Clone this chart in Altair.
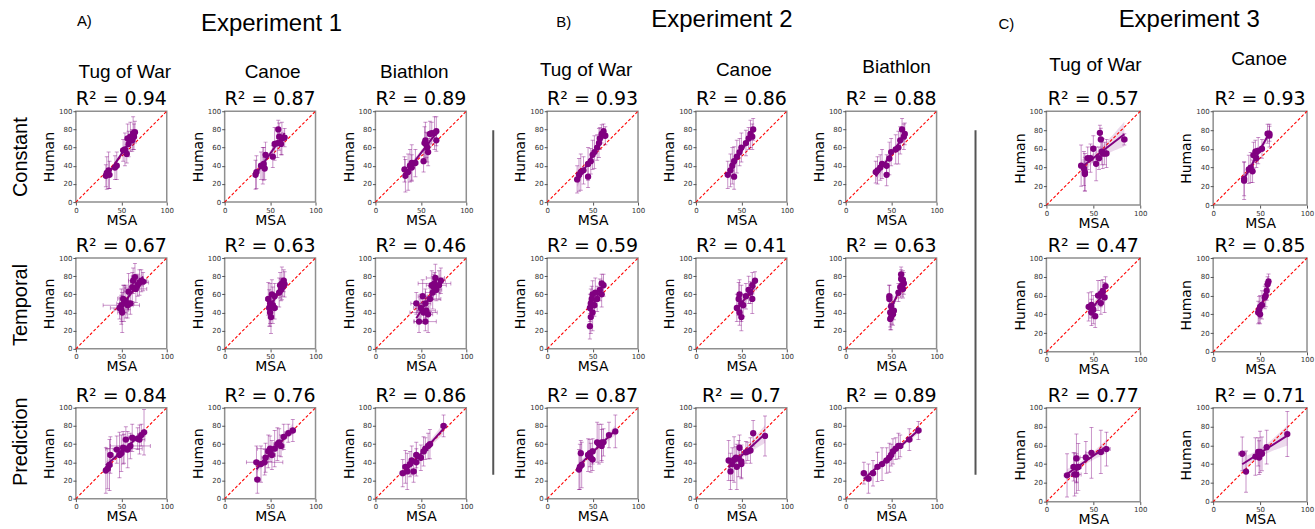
import altair as alt
import numpy as np
import pandas as pd

# ---------------------------------------------------------------- labels
CONDITIONS = ["Constant", "Temporal", "Prediction"]
EXPERIMENTS = ["Experiment 1", "Experiment 2", "Experiment 3"]
LETTERS = ["A)", "B)", "C)"]
SPORTS = ["Tug of War", "Canoe", "Biathlon", "Tug of War", "Canoe", "Biathlon", "Tug of War", "Canoe"]

# R^2 per column (Constant, Temporal, Prediction)
R2_E1_TUG = [0.94, 0.67, 0.84]
R2_E1_CANOE = [0.87, 0.63, 0.76]
R2_E1_BIATH = [0.89, 0.46, 0.86]
R2_E2_TUG = [0.93, 0.59, 0.87]
R2_E2_CANOE = [0.86, 0.41, 0.7]
R2_E2_BIATH = [0.88, 0.63, 0.89]
R2_E3_TUG = [0.57, 0.47, 0.77]
R2_E3_CANOE = [0.93, 0.85, 0.71]

# ---------------------------------------------------------------- data
# each point: (MSA, Human, MSA error, Human error)
E1_TUG_CONST = [(33, 29, 2, 12), (34, 32, 2, 18), (36, 35, 2, 20), (37, 30, 2, 15), (43, 38, 2, 13), (45, 40, 2, 15),
                (52, 57, 2, 12), (54, 58, 2, 18), (56, 53, 2, 10), (57, 70, 3, 16), (58, 64, 2, 14), (60, 72, 2, 16),
                (62, 68, 3, 12), (63, 76, 2, 18), (64, 72, 2, 14), (65, 77, 2, 12)]
E1_TUG_TEMP = [(48, 45, 10, 12), (50, 48, 20, 18), (51, 40, 5, 22), (52, 55, 6, 15), (53, 50, 8, 20), (55, 52, 4, 18),
               (57, 48, 6, 14), (58, 63, 5, 20), (60, 50, 4, 12), (62, 68, 8, 16), (63, 75, 5, 14), (65, 79, 4, 15),
               (66, 66, 12, 15), (68, 70, 6, 12), (70, 73, 10, 14), (72, 75, 6, 12), (74, 74, 4, 10), (50, 43, 8, 16)]
E1_TUG_PRED = [(33, 31, 2, 25), (35, 33, 3, 22), (37, 37, 3, 28), (38, 48, 3, 20), (45, 54, 4, 15), (48, 48, 3, 25),
               (50, 50, 3, 20), (52, 56, 4, 18), (53, 55, 20, 16), (55, 65, 3, 14), (57, 54, 4, 20), (60, 58, 22, 14),
               (62, 67, 4, 15), (68, 66, 3, 12), (70, 65, 6, 16), (75, 73, 3, 25), (72, 70, 4, 12)]

E1_CANOE_CONST = [(34, 30, 2, 16), (35, 33, 2, 18), (40, 40, 2, 15), (42, 40, 2, 20), (43, 42, 2, 18), (45, 52, 2, 14),
                  (44, 37, 2, 12), (53, 50, 2, 12), (55, 64, 2, 18), (58, 65, 2, 16), (59, 80, 2, 10), (60, 72, 2, 15),
                  (62, 64, 2, 12), (63, 70, 2, 18), (66, 71, 2, 10)]
E1_CANOE_TEMP = [(48, 55, 3, 18), (49, 45, 2, 20), (50, 40, 3, 15), (50, 50, 2, 22), (51, 35, 3, 18), (52, 60, 2, 16),
                 (53, 48, 3, 20), (55, 58, 2, 14), (55, 45, 3, 12), (60, 62, 3, 16), (61, 70, 2, 14), (62, 65, 3, 12),
                 (63, 72, 2, 18), (64, 68, 2, 10), (65, 75, 3, 12), (66, 71, 2, 14)]
E1_CANOE_PRED = [(36, 21, 3, 15), (35, 40, 3, 18), (40, 38, 3, 20), (45, 45, 4, 16), (48, 52, 3, 18), (50, 55, 14, 14),
                 (52, 48, 4, 16), (55, 55, 3, 20), (58, 60, 4, 18), (60, 62, 3, 15), (62, 58, 4, 12), (65, 68, 3, 14),
                 (70, 72, 4, 10), (75, 75, 3, 12), (44, 40, 20, 14)]

E1_BIATH_CONST = [(32, 36, 2, 14), (33, 29, 2, 18), (36, 33, 2, 20), (38, 40, 2, 18), (40, 43, 2, 20), (40, 38, 2, 14),
                  (44, 43, 2, 15), (53, 45, 2, 12), (54, 65, 2, 18), (55, 68, 2, 20), (57, 60, 2, 16), (58, 55, 2, 15),
                  (60, 75, 2, 14), (62, 76, 2, 12), (65, 76, 2, 18), (67, 78, 2, 16), (67, 68, 2, 12), (56, 63, 2, 14)]
E1_BIATH_TEMP = [(48, 30, 6, 12), (50, 45, 8, 15), (52, 58, 5, 18), (53, 40, 15, 12), (55, 50, 6, 16), (56, 42, 10, 14),
                 (58, 38, 5, 20), (60, 55, 12, 14), (62, 70, 6, 16), (63, 62, 8, 18), (64, 68, 5, 14), (65, 72, 18, 12),
                 (66, 78, 10, 15), (67, 65, 6, 12), (70, 70, 8, 16), (72, 75, 5, 14), (45, 50, 6, 12), (55, 30, 12, 10)]
E1_BIATH_PRED = [(30, 28, 3, 15), (33, 35, 3, 18), (35, 30, 3, 20), (38, 38, 3, 14), (40, 42, 3, 16), (42, 30, 3, 12),
                 (45, 40, 3, 15), (50, 45, 3, 14), (53, 52, 3, 16), (55, 55, 3, 12), (58, 58, 3, 14), (60, 60, 3, 16),
                 (75, 80, 3, 12), (45, 48, 3, 14)]

E2_TUG_CONST = [(33, 25, 2, 15), (35, 30, 2, 18), (37, 33, 2, 20), (40, 35, 2, 15), (45, 42, 2, 18), (48, 45, 2, 14),
                (50, 52, 2, 16), (52, 55, 2, 18), (55, 60, 2, 14), (57, 65, 2, 16), (58, 70, 2, 12), (60, 75, 2, 10),
                (62, 78, 2, 8), (64, 73, 2, 10), (45, 28, 2, 12)]
E2_TUG_TEMP = [(47, 45, 2, 15), (48, 35, 2, 18), (48, 50, 2, 16), (49, 55, 2, 14), (50, 40, 2, 20), (50, 60, 2, 15),
               (52, 48, 2, 12), (53, 62, 2, 16), (55, 55, 2, 14), (58, 65, 2, 12), (60, 72, 2, 10), (60, 60, 2, 14),
               (62, 70, 2, 12), (47, 25, 2, 14)]
E2_TUG_PRED = [(35, 32, 2, 22), (36, 35, 2, 25), (37, 50, 2, 14), (38, 37, 2, 25), (45, 48, 2, 18), (47, 50, 2, 15),
               (48, 45, 2, 16), (50, 43, 2, 12), (50, 52, 2, 14), (55, 62, 2, 22), (57, 60, 2, 22), (60, 58, 2, 18),
               (60, 62, 2, 20), (62, 62, 2, 15), (68, 70, 2, 14), (75, 74, 2, 18)]

E2_CANOE_CONST = [(35, 30, 2, 15), (38, 35, 2, 18), (40, 40, 2, 20), (42, 45, 2, 16), (45, 50, 2, 18), (48, 55, 2, 15),
                  (50, 60, 2, 16), (55, 65, 2, 14), (58, 70, 2, 12), (60, 75, 2, 15), (62, 72, 2, 14), (63, 80, 2, 12),
                  (42, 28, 2, 14)]
E2_CANOE_TEMP = [(45, 45, 2, 15), (47, 55, 2, 18), (48, 60, 2, 16), (48, 40, 2, 14), (50, 50, 2, 20), (50, 35, 2, 15),
                 (52, 48, 2, 12), (55, 58, 2, 14), (58, 65, 2, 15), (60, 62, 2, 12), (62, 70, 2, 14), (62, 55, 2, 16),
                 (65, 75, 2, 10)]
E2_CANOE_PRED = [(36, 42, 2, 22), (38, 30, 2, 20), (40, 38, 2, 18), (42, 43, 2, 25), (45, 35, 2, 25), (47, 44, 2, 20),
                 (48, 56, 2, 14), (50, 38, 2, 16), (50, 41, 2, 18), (55, 51, 2, 12), (57, 52, 2, 10), (60, 53, 2, 14),
                 (63, 72, 2, 14), (76, 69, 2, 22), (44, 45, 2, 12)]

E2_BIATH_CONST = [(33, 33, 2, 12), (35, 35, 2, 15), (38, 38, 2, 14), (40, 42, 2, 16), (45, 40, 2, 12), (48, 48, 2, 18),
                  (50, 55, 2, 15), (55, 58, 2, 16), (58, 60, 2, 18), (60, 68, 2, 15), (62, 80, 2, 12), (64, 72, 2, 14),
                  (65, 75, 2, 12), (45, 30, 2, 12)]
E2_BIATH_TEMP = [(48, 58, 2, 12), (48, 55, 2, 15), (49, 40, 2, 16), (50, 35, 2, 14), (50, 47, 2, 12), (51, 42, 2, 15),
                 (52, 38, 2, 12), (53, 42, 2, 10), (60, 68, 2, 12), (61, 77, 2, 10), (61, 82, 2, 8), (62, 70, 2, 12),
                 (63, 66, 2, 10), (63, 76, 2, 10), (64, 72, 2, 12), (58, 62, 2, 10), (49, 33, 2, 12)]
E2_BIATH_PRED = [(20, 28, 3, 12), (25, 22, 3, 16), (30, 28, 3, 14), (35, 35, 3, 16), (40, 38, 3, 18), (45, 42, 3, 14),
                 (48, 45, 3, 16), (50, 48, 3, 12), (52, 52, 3, 14), (55, 55, 3, 12), (58, 58, 3, 14), (60, 58, 3, 12),
                 (70, 65, 3, 12), (80, 75, 3, 10)]

E3_TUG_CONST = [(37, 42, 2, 22), (40, 39, 2, 18), (41, 35, 2, 20), (41, 33, 2, 18), (44, 50, 2, 12), (47, 50, 2, 15),
                (50, 60, 2, 14), (53, 44, 2, 18), (56, 50, 3, 12), (57, 77, 2, 8), (58, 70, 2, 12), (59, 57, 2, 14),
                (60, 55, 2, 16), (62, 55, 2, 12), (64, 55, 2, 15), (83, 70, 3, 6)]
E3_TUG_TEMP = [(45, 48, 2, 15), (48, 50, 2, 14), (50, 45, 2, 15), (52, 38, 2, 12), (55, 60, 2, 16), (58, 62, 2, 14),
               (60, 65, 2, 12), (62, 58, 2, 16), (63, 70, 2, 10), (48, 42, 2, 14), (58, 52, 2, 12)]
E3_TUG_PRED = [(22, 28, 3, 23), (29, 37, 3, 15), (30, 29, 3, 23), (32, 46, 3, 26), (32, 36, 3, 15), (32, 29, 5, 20),
               (34, 37, 3, 25), (42, 47, 6, 17), (48, 52, 6, 27), (58, 53, 3, 23), (64, 56, 4, 18)]

E3_CANOE_CONST = [(33, 26, 2, 20), (33, 28, 2, 18), (38, 38, 2, 15), (40, 40, 2, 16), (42, 36, 2, 12), (43, 53, 2, 14),
                  (45, 57, 2, 12), (46, 50, 2, 10), (48, 58, 2, 14), (52, 60, 2, 10), (58, 76, 2, 10), (60, 74, 2, 12),
                  (60, 76, 2, 8)]
E3_CANOE_TEMP = [(48, 42, 2, 12), (49, 45, 2, 14), (50, 48, 2, 12), (52, 50, 2, 15), (55, 58, 2, 12), (57, 65, 2, 10),
                 (58, 72, 2, 8), (59, 75, 2, 8), (50, 40, 2, 10), (56, 60, 2, 12)]
E3_CANOE_PRED = [(31, 51, 4, 18), (35, 32, 2, 22), (45, 48, 2, 20), (48, 53, 2, 15), (49, 47, 2, 18), (50, 53, 2, 22),
                 (52, 51, 2, 18), (57, 58, 2, 18), (79, 72, 2, 24)]

# identity line over the shared axis range
DIAG = [0, 100]

COLUMN_DATA = [
    ([E1_TUG_CONST, E1_TUG_TEMP, E1_TUG_PRED], R2_E1_TUG),
    ([E1_CANOE_CONST, E1_CANOE_TEMP, E1_CANOE_PRED], R2_E1_CANOE),
    ([E1_BIATH_CONST, E1_BIATH_TEMP, E1_BIATH_PRED], R2_E1_BIATH),
    ([E2_TUG_CONST, E2_TUG_TEMP, E2_TUG_PRED], R2_E2_TUG),
    ([E2_CANOE_CONST, E2_CANOE_TEMP, E2_CANOE_PRED], R2_E2_CANOE),
    ([E2_BIATH_CONST, E2_BIATH_TEMP, E2_BIATH_PRED], R2_E2_BIATH),
    ([E3_TUG_CONST, E3_TUG_TEMP, E3_TUG_PRED], R2_E3_TUG),
    ([E3_CANOE_CONST, E3_CANOE_TEMP, E3_CANOE_PRED], R2_E3_CANOE),
]

# ---------------------------------------------------------------- styling / layout
PURPLE = "#800080"
FRAME = "#8f8f8f"
MPL_FONT = "DejaVu Sans"
HEAD_FONT = "Liberation Sans"

COL_LEFT = [76, 225, 376, 548, 697, 847, 1048, 1215]
COL_W = [91, 91, 91, 91, 91, 91, 94, 94]
ROW_TOPS = [[111, 253, 395]] * 3 + [[110, 252, 394]] * 3 + [[111, 258, 408], [103, 250, 400]]
SEPARATORS = [494, 977]

DUMMY = pd.DataFrame({"k": [0]})


def ci_band(df):
    x = df["msa"].to_numpy(float)
    y = df["human"].to_numpy(float)
    n = len(x)
    slope, icpt = np.polyfit(x, y, 1)
    resid = y - (icpt + slope * x)
    s = np.sqrt(np.sum(resid ** 2) / (n - 2))
    xbar = x.mean()
    sxx = np.sum((x - xbar) ** 2)
    xg = np.linspace(x.min(), x.max(), 40)
    yhat = icpt + slope * xg
    se = s * np.sqrt(1.0 / n + (xg - xbar) ** 2 / sxx)
    return pd.DataFrame({"msa": xg, "lo": yhat - 2.1 * se, "hi": yhat + 2.1 * se})


def axis(title, values, title_pad):
    return alt.Axis(title=title, values=values, domain=False, grid=False, labelFontSize=7, labelFont=MPL_FONT,
                    labelColor="#333", tickSize=3, tickColor="#555", labelPadding=1, labelFlush=False,
                    labelOverlap=False, titleFont=MPL_FONT, titleFontSize=14, titleFontWeight="normal",
                    titleColor="black", titlePadding=title_pad)


XAX = axis("MSA", [0, 50, 100], 0)
YAX = axis("Human", [0, 20, 40, 60, 80, 100], 2)
SC = alt.Scale(domain=[0, 100], nice=False, zero=False)


def X(f):
    return alt.X(f, type="quantitative", scale=SC, axis=XAX)


def Y(f):
    return alt.Y(f, type="quantitative", scale=SC, axis=YAX)


def panel(points, r2, w, h):
    df = pd.DataFrame(points, columns=["msa", "human", "msa_err", "human_err"])
    df["msa_lo"] = df["msa"] - df["msa_err"]
    df["msa_hi"] = df["msa"] + df["msa_err"]
    df["human_lo"] = df["human"] - df["human_err"]
    df["human_hi"] = df["human"] + df["human_err"]
    base = alt.Chart(df)
    err = dict(color=PURPLE, opacity=0.42, clip=True)

    band = alt.Chart(ci_band(df)).mark_area(color=PURPLE, opacity=0.15, clip=True).encode(
        x=X("msa"), y=Y("lo"), y2="hi")
    diag = alt.Chart(pd.DataFrame({"msa": DIAG, "human": DIAG})).mark_line(
        color="red", strokeDash=[3, 2], strokeWidth=1.1).encode(x=X("msa"), y=Y("human"))
    xbars = base.mark_rule(strokeWidth=1, **err).encode(x=X("msa_lo"), x2="msa_hi", y=Y("human"))
    ybars = base.mark_rule(strokeWidth=1, **err).encode(x=X("msa"), y=Y("human_lo"), y2="human_hi")
    ycap_lo = base.mark_tick(orient="horizontal", size=4, thickness=1, **err).encode(x=X("msa"), y=Y("human_lo"))
    ycap_hi = base.mark_tick(orient="horizontal", size=4, thickness=1, **err).encode(x=X("msa"), y=Y("human_hi"))
    xcap_lo = base.mark_tick(orient="vertical", size=4, thickness=1, **err).encode(x=X("msa_lo"), y=Y("human"))
    xcap_hi = base.mark_tick(orient="vertical", size=4, thickness=1, **err).encode(x=X("msa_hi"), y=Y("human"))
    dots = base.mark_circle(size=40, color=PURPLE, opacity=1).encode(x=X("msa"), y=Y("human"))
    reg = base.transform_regression("msa", "human").mark_line(color=PURPLE, strokeWidth=2).encode(
        x=X("msa"), y=Y("human"))

    return alt.layer(band, diag, xbars, ybars, ycap_lo, ycap_hi, xcap_lo, xcap_hi, reg, dots).properties(
        width=w, height=h,
        title=alt.TitleParams(f"R² = {r2}", font=MPL_FONT, fontSize=19, fontWeight="normal", color="black",
                              offset=2, dy=4, anchor="middle"),
        view=alt.ViewBackground(stroke=FRAME, strokeWidth=1.5),
    )


def blank(w, h):
    # invisible, zero-size mark so the empty cell keeps its size without extending its bounds
    return alt.Chart(DUMMY).mark_point(opacity=0, size=0, strokeWidth=0).encode(
        x=alt.value(w / 2), y=alt.value(h / 2)).properties(width=w, height=h)


def text(t, x, y, size, font=HEAD_FONT, align="center", angle=0):
    return alt.Chart(DUMMY).mark_text(text=t, font=font, fontSize=size, align=align, baseline="alphabetic",
                                      angle=angle, color="black").encode(x=alt.value(x), y=alt.value(y))


# header texts for each column: (text, absolute x, baseline y, size, align)
HEADERS = [
    [(LETTERS[0], 77, 26, 15, "left"), (SPORTS[0], 125, 78, 19, "center")],
    [(EXPERIMENTS[0], 272, 31, 24, "center"), (SPORTS[1], 273, 78, 19, "center")],
    [(SPORTS[2], 415, 78, 19, "center")],
    [(LETTERS[1], 557, 27, 15, "left"), (SPORTS[3], 587, 76, 19, "center")],
    [(EXPERIMENTS[1], 723, 27, 24, "center"), (SPORTS[4], 745, 76, 19, "center")],
    [(SPORTS[5], 898, 73, 19, "center")],
    [(LETTERS[2], 1000, 29, 15, "left"), (SPORTS[6], 1097, 71, 19, "center")],
    [(EXPERIMENTS[2], 1191, 27, 24, "center"), (SPORTS[7], 1261, 65, 19, "center")],
]

ROW_LABEL_Y = [157, 305, 442]
N_ROWS = 6  # header, panel, gap, panel, gap, panel


def plot_column(i):
    """Six stacked cells: header strip, then panels separated by gaps."""
    left, w = COL_LEFT[i], COL_W[i]
    tops = ROW_TOPS[i]
    h = w
    head = alt.layer(*[text(t, x - left, y, s, align=a) for (t, x, y, s, a) in HEADERS[i]]).properties(
        width=w, height=tops[0])
    sets, r2s = COLUMN_DATA[i]
    cells = [head]
    for r in range(3):
        cells.append(panel(sets[r], r2s[r], w, h))
        if r < 2:
            cells.append(blank(w, tops[r + 1] - tops[r] - h))
    return cells


def label_column():
    strip = alt.layer(*[
        alt.Chart(DUMMY).mark_text(text=c, font=HEAD_FONT, fontSize=20, align="center", baseline="middle",
                                   angle=270, color="black").encode(x=alt.value(21), y=alt.value(yy))
        for c, yy in zip(CONDITIONS, ROW_LABEL_Y)
    ]).properties(width=COL_LEFT[0], height=ROW_TOPS[0][0])
    return [strip] + [blank(COL_LEFT[0], 1) for _ in range(N_ROWS - 1)]


def gap_column(w, x_line=None):
    if x_line is None:
        top = blank(w, 1)
    else:
        top = alt.Chart(DUMMY).mark_rule(color="#555", strokeWidth=2).encode(
            x=alt.value(x_line), y=alt.value(130), y2=alt.value(475)).properties(width=w, height=1)
    return [top] + [blank(w, 1) for _ in range(N_ROWS - 1)]


columns = [label_column()]
for i in range(len(COL_LEFT)):
    columns.append(plot_column(i))
    if i < len(COL_LEFT) - 1:
        right_edge = COL_LEFT[i] + COL_W[i]
        gap = COL_LEFT[i + 1] - right_edge
        seps = [s for s in SEPARATORS if right_edge < s < COL_LEFT[i + 1]]
        columns.append(gap_column(gap, seps[0] - right_edge if seps else None))

# row-major cell order for a single grid
cells = [columns[c][r] for r in range(N_ROWS) for c in range(len(columns))]

chart = alt.concat(*cells, columns=len(columns), spacing=0, bounds="flush", align="none").properties(
    padding=0, background="white"
).configure_view(stroke=None)

chart.save("out.html", embed_options={"renderer": "svg", "actions": False})
